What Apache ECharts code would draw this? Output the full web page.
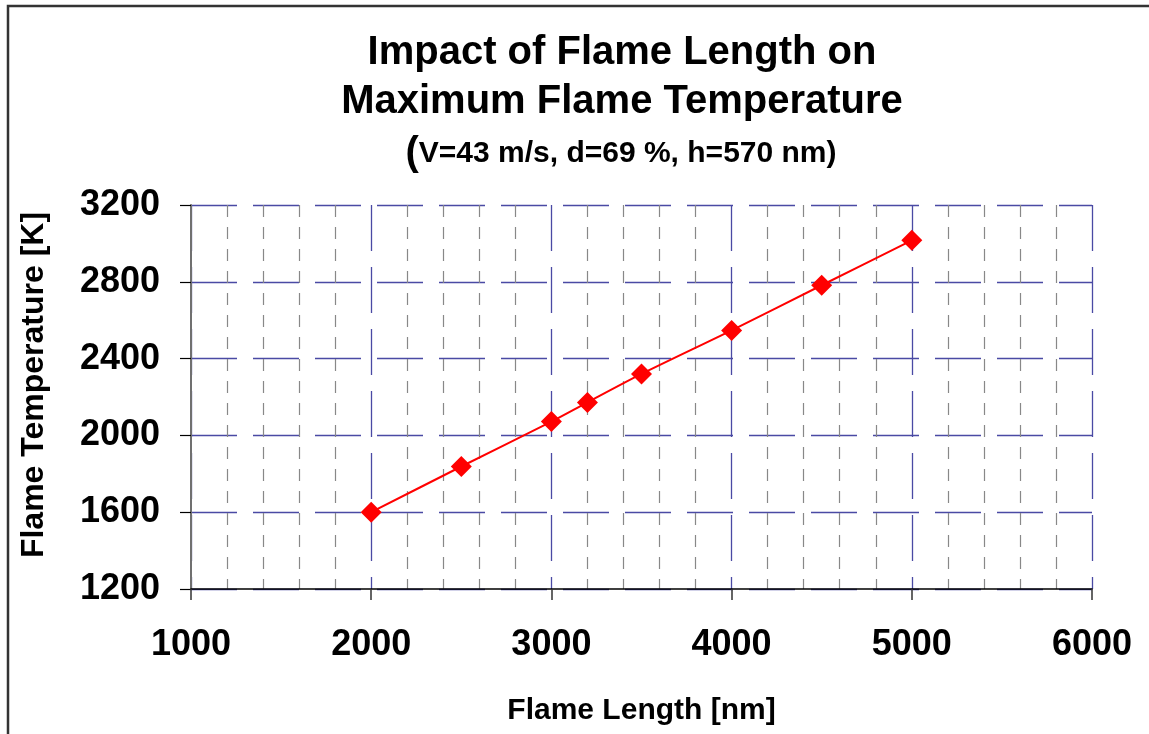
<!DOCTYPE html>
<html>
<head>
<meta charset="utf-8">
<script src="https://cdn.jsdelivr.net/npm/echarts@6/dist/echarts.min.js"></script>
<style>
html,body{margin:0;padding:0;background:#fff;}
#chart{width:1149px;height:734px;}
</style>
</head>
<body>
<div id="chart"></div>
<script>
const flameLength = [2000, 2500, 3000, 3200, 3500, 4000, 4500, 5000];
const flameTemp = [1600, 1838, 2072, 2172, 2320, 2547, 2782, 3016];
const xTicks = [1000, 2000, 3000, 4000, 5000, 6000];
const yTicks = [1200, 1600, 2000, 2400, 2800, 3200];

const FONT = '"Liberation Sans", Arial, sans-serif';
const chart = echarts.init(document.getElementById('chart'));
chart.setOption({
  backgroundColor: '#fff',
  animation: false,
  graphic: [{
    type: 'rect',
    shape: {x: 8, y: 6, width: 1300, height: 900},
    style: {fill: 'none', stroke: '#333', lineWidth: 2.5},
    silent: true
  }],
  title: [{
    text: 'Impact of Flame Length on\nMaximum Flame Temperature',
    left: 617, textAlign: 'center', top: 23,
    textStyle: {fontFamily: FONT, fontSize: 40, fontWeight: 'bold', color: '#000', lineHeight: 49}
  }, {
    text: '{p|(}V=43 m/s, d=69 %, h=570 nm)',
    left: 616, textAlign: 'center', top: 129,
    textStyle: {
      fontFamily: FONT, fontSize: 30, fontWeight: 'bold', color: '#000',
      rich: {p: {fontFamily: FONT, fontSize: 40, fontWeight: 'bold', color: '#000'}}
    }
  }],
  grid: {left: 191, right: 57, top: 205, bottom: 145, containLabel: false},
  xAxis: {
    type: 'value', min: xTicks[0], max: xTicks[xTicks.length - 1], interval: 1000,
    name: 'Flame Length [nm]', nameLocation: 'middle', nameGap: 107,
    nameTextStyle: {fontFamily: FONT, fontSize: 30, fontWeight: 'bold', color: '#000'},
    axisLine: {show: true, onZero: false, lineStyle: {color: '#000', width: 1.5}},
    axisTick: {show: true, inside: false, length: 11, lineStyle: {color: '#333', width: 1.5}},
    axisLabel: {fontFamily: FONT, fontSize: 36, fontWeight: 'bold', color: '#000', margin: 38,
      formatter: v => String(v)},
    splitLine: {show: true, lineStyle: {color: '#4a4aa4', width: 1.3, type: [46, 16]}},
    minorTick: {show: false, splitNumber: 5},
    minorSplitLine: {show: true, lineStyle: {color: '#888', width: 1.2, type: [12, 10]}}
  },
  yAxis: {
    type: 'value', min: yTicks[0], max: yTicks[yTicks.length - 1], interval: 400,
    name: 'Flame Temperature [K]', nameLocation: 'middle', nameGap: 141, nameRotate: 90,
    nameTextStyle: {fontFamily: FONT, fontSize: 32, fontWeight: 'bold', color: '#000',
      padding: [0, 0, 0, 24]},
    axisLine: {show: true, lineStyle: {color: '#707070', width: 2}},
    axisTick: {show: true, inside: false, length: 11, lineStyle: {color: '#000', width: 1.2}},
    axisLabel: {fontFamily: FONT, fontSize: 36, fontWeight: 'bold', color: '#000', margin: 31,
      formatter: v => String(v)},
    splitLine: {show: true, lineStyle: {color: '#4a4aa4', width: 1.3, type: [46, 16]}}
  },
  series: [{
    type: 'line',
    data: flameLength.map((x, i) => [x, flameTemp[i]]),
    smooth: 0.25,
    symbol: 'diamond', symbolSize: 21,
    lineStyle: {color: '#ff0000', width: 2},
    itemStyle: {color: '#ff0000'}
  }]
});
</script>
</body>
</html>
